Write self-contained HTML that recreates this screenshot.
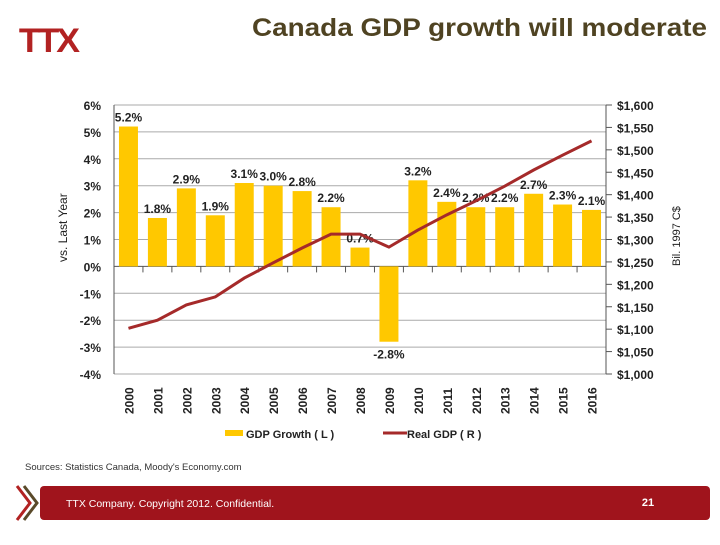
<!DOCTYPE html>
<html><head><meta charset="utf-8"><style>
body{margin:0;width:720px;height:540px;background:#fff;overflow:hidden;font-family:"Liberation Sans",sans-serif}
</style></head><body>
<svg width="720" height="540" viewBox="0 0 720 540" xmlns="http://www.w3.org/2000/svg">
<g>
<text x="18" y="52" font-size="34" font-weight="bold" fill="#b22222" font-family="Liberation Sans, sans-serif" letter-spacing="-3" transform="scale(1.05,1)">TTX</text>
</g>
<text x="252" y="36" textLength="455" lengthAdjust="spacingAndGlyphs" font-size="25" font-weight="bold" fill="#4f4322" font-family="Liberation Sans, sans-serif">Canada GDP growth will moderate</text>
<g id="chart"></g>
<text x="25" y="470" font-size="9.5" fill="#333">Sources: Statistics Canada, Moody's Economy.com</text>
<g>
<polyline points="17,486 30,503 17,520" fill="none" stroke="#b22222" stroke-width="3"/>
<polyline points="24,486 37,503 24,520" fill="none" stroke="#5a4a2a" stroke-width="3"/>
</g>
<rect x="40" y="486" width="670" height="34" rx="4" fill="#a0141c"/>
<text x="66" y="507" font-size="10.5" fill="#fff">TTX Company. Copyright 2012. Confidential.</text>
<text x="648" y="506" font-size="11" font-weight="bold" fill="#fff" text-anchor="middle">21</text>
</svg>
<script>
const years=["2000","2001","2002","2003","2004","2005","2006","2007","2008","2009","2010","2011","2012","2013","2014","2015","2016"];
const growth=[5.2,1.8,2.9,1.9,3.1,3.0,2.8,2.2,0.7,-2.8,3.2,2.4,2.2,2.2,2.7,2.3,2.1];
const growthLabels=["5.2%","1.8%","2.9%","1.9%","3.1%","3.0%","2.8%","2.2%","0.7%","-2.8%","3.2%","2.4%","2.2%","2.2%","2.7%","2.3%","2.1%"];
const realGdp=[1102,1120,1154,1172,1214,1248,1281,1312,1312,1283,1321,1355,1386,1419,1455,1488,1520];
const leftTicks=[6,5,4,3,2,1,0,-1,-2,-3,-4];
const rightTicks=[1600,1550,1500,1450,1400,1350,1300,1250,1200,1150,1100,1050,1000];
const NS="http://www.w3.org/2000/svg";
const g=document.getElementById('chart');
const X0=114,X1=606,YT=105,YB=374;
const bw=(X1-X0)/years.length;
const yL=v=>YT+(6-v)/10*(YB-YT);
const yR=v=>YT+(1600-v)/600*(YB-YT);
const xC=i=>X0+bw*(i+0.5);
function mk(t,a){const e=document.createElementNS(NS,t);for(const k in a)e.setAttribute(k,a[k]);g.appendChild(e);return e;}
leftTicks.forEach(v=>{
 const l=mk('line',{x1:X0,x2:X1,y1:yL(v),y2:yL(v),stroke:v===0?'#555':'#aaa','stroke-width':1});
 
 
 const t=mk('text',{x:X0-13,y:yL(v)+5,'text-anchor':'end','font-size':12,'font-weight':'bold',fill:'#222'});
 t.textContent=v+'%';
 
 
});
rightTicks.forEach(v=>{
 const l=mk('line',{x1:X1,x2:X1+6,y1:yR(v),y2:yR(v),stroke:'#555'});
 
 
 const t=mk('text',{x:X1+11,y:yR(v)+5,'font-size':12,'font-weight':'bold',fill:'#222'});
 t.textContent='$'+v.toLocaleString('en-US');
 
 
});
let ax=mk('line',{x1:X0,x2:X0,y1:YT,y2:YB,stroke:'#555'});


ax=mk('line',{x1:X1,x2:X1,y1:YT,y2:YB,stroke:'#555'});


years.forEach((y,i)=>{
 const v=growth[i];
 const r=mk('rect',{x:xC(i)-9.5,width:19,y:Math.min(yL(v),yL(0)),height:Math.abs(yL(v)-yL(0)),fill:'#ffc800'});
 
 
 const tk=mk('line',{x1:X0+bw*(i+1),x2:X0+bw*(i+1),y1:yL(0),y2:yL(0)+6,stroke:'#555'});
 
 
 const ly=v>=0?yL(v)-5:yL(v)+17;
 const t=mk('text',{x:xC(i),y:ly,'text-anchor':'middle','font-size':12,'font-weight':'bold',fill:'#222'});
 t.textContent=growthLabels[i];
 
 
 const yt=mk('text',{x:0,y:0,'font-size':12,'font-weight':'bold',fill:'#222',transform:`translate(${xC(i)+5},414) rotate(-90)`});
 yt.textContent=y;
 
 
});
const pl=mk('polyline',{points:realGdp.map((v,i)=>xC(i)+','+yR(v)).join(' '),fill:'none',stroke:'#a52a2a','stroke-width':3});


let t=mk('text',{x:0,y:0,'font-size':12,fill:'#222',transform:'translate(67,262) rotate(-90)'});
t.textContent='vs. Last Year';


t=mk('text',{x:0,y:0,'font-size':11,fill:'#222',transform:'translate(680,266) rotate(-90)'});
t.textContent='Bil. 1997 C$';


let lg=mk('rect',{x:225,y:430,width:18,height:6,fill:'#ffc800'});


t=mk('text',{x:246,y:438,'font-size':11,'font-weight':'bold',fill:'#222'});
t.textContent='GDP Growth  ( L )';


lg=mk('line',{x1:383,x2:407,y1:433,y2:433,stroke:'#a52a2a','stroke-width':3});


t=mk('text',{x:407,y:438,'font-size':11,'font-weight':'bold',fill:'#222'});
t.textContent='Real GDP  ( R )';


</script>
</body></html>
